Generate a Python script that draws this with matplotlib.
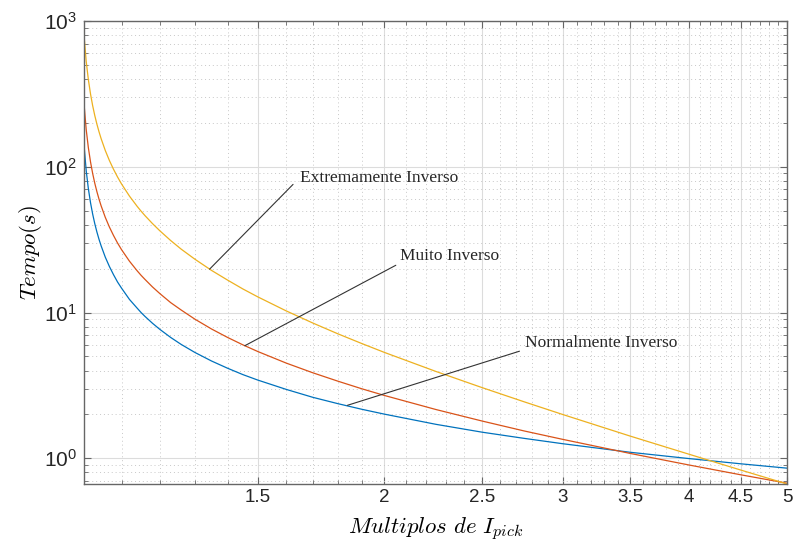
import matplotlib
matplotlib.use('Agg')
import matplotlib.pyplot as plt
from matplotlib.ticker import FixedLocator, FixedFormatter, LogLocator, NullFormatter

plt.rcParams['font.family'] = 'Liberation Sans'
plt.rcParams['mathtext.fontset'] = 'custom'
plt.rcParams['mathtext.rm'] = 'Liberation Sans'
plt.rcParams['mathtext.it'] = 'Liberation Sans:italic'

# Multiplos de I_pick (eixo x) e tempos
multiplos = [1.01, 1.015, 1.02, 1.025, 1.03, 1.035, 1.04, 1.045, 1.05, 1.06,
             1.07, 1.08, 1.09, 1.1, 1.12, 1.14, 1.15, 1.16, 1.18, 1.2, 1.23,
             1.26, 1.3, 1.35, 1.4, 1.45, 1.5, 1.6, 1.7, 1.8, 1.9, 2.0, 2.25,
             2.5, 2.75, 3.0, 3.5, 4.0, 4.5, 5.0]
t_normal = [140.7, 94.0, 70.7, 56.7, 47.4, 40.7, 35.7, 31.8, 28.7, 24.0,
            20.7, 18.2, 16.2, 14.7, 12.3, 10.7, 10.0, 9.42, 8.45, 7.67, 6.75,
            6.04, 5.32, 4.65, 4.15, 3.75, 3.44, 2.97, 2.62, 2.37, 2.17, 2.01, 1.71,
            1.51, 1.37, 1.26, 1.10, 0.996, 0.917, 0.856]
t_muito = [270, 180, 135, 108, 90, 77.1, 67.5, 60, 54, 45,
           38.6, 33.8, 30, 27, 22.5, 19.3, 18, 16.9, 15, 13.5, 11.7,
           10.4, 9.0, 7.71, 6.75, 6.0, 5.4, 4.5, 3.86, 3.38, 3.0, 2.7, 2.16,
           1.8, 1.54, 1.35, 1.08, 0.90, 0.771, 0.675]
t_extremo = [796, 529, 396, 316, 262.7, 224.6, 196.1, 173.9, 156.1, 129.4,
             110.4, 96.2, 85.1, 76.2, 62.9, 53.4, 49.6, 46.3, 40.8, 36.4, 31.2,
             27.2, 23.2, 19.45, 16.7, 14.5, 12.8, 10.26, 8.47, 7.14, 6.13, 5.33, 3.94,
             3.05, 2.44, 2.0, 1.42, 1.067, 0.831, 0.667]

xticks = [1.5, 2, 2.5, 3, 3.5, 4, 4.5, 5]
xtick_labels = ['1.5', '2', '2.5', '3', '3.5', '4', '4.5', '5']
nomes = ['Normalmente Inverso', 'Muito Inverso', 'Extremamente Inverso']

fig = plt.figure(figsize=(7.95, 5.45), dpi=100)
ax = fig.add_axes([0.1057, 0.112, 0.8843, 0.8495])

ax.plot(multiplos, t_normal, color='#0072BD', lw=0.9)
ax.plot(multiplos, t_muito, color='#D95319', lw=0.9)
ax.plot(multiplos, t_extremo, color='#EDB120', lw=0.9)

ax.set_xscale('log')
ax.set_yscale('log')
ax.set_xlim(1.01, 5)
ax.set_ylim(0.667, 1000)

ax.xaxis.set_major_locator(FixedLocator(xticks))
ax.xaxis.set_major_formatter(FixedFormatter(xtick_labels))
minx = [round(1.1 + 0.1 * i, 1) for i in range(39)]
minx = [v for v in minx if v not in xticks]
ax.xaxis.set_minor_locator(FixedLocator(minx))
ax.xaxis.set_minor_formatter(NullFormatter())
ax.yaxis.set_major_locator(LogLocator(base=10, numticks=10))
ax.yaxis.set_minor_locator(LogLocator(base=10, subs=range(2, 10), numticks=20))
ax.yaxis.set_minor_formatter(NullFormatter())

ax.grid(True, which='major', color='#dcdcdc', lw=0.8, ls='-')
ax.grid(True, which='minor', color='#c8c8c8', lw=0.7, ls=(0, (1, 3)))
ax.set_axisbelow(True)

for s in ax.spines.values():
    s.set_color('#666666')
    s.set_linewidth(1.0)
ax.tick_params(which='both', direction='in', top=True, right=True, colors='#666666',
               labelcolor='#262626')
ax.tick_params(axis='x', labelsize=13.5)
ax.tick_params(axis='y', labelsize=15, pad=5)
ax.tick_params(which='major', length=5, width=0.8)
ax.tick_params(which='minor', length=3, width=0.6)

ax.set_xlabel(r'$Multiplos\ de\ I_{pick}$', fontsize=16.5, math_fontfamily='cm',
              labelpad=7)
ax.set_ylabel(r'$Tempo(s)$', fontsize=16.5, math_fontfamily='cm', labelpad=0)

# anotacoes (ponto na curva, fim da linha, posicao do texto)
anot = [((1.839, 2.31), (2.72, 5.43), (2.752, 6.16)),
        ((1.456, 5.92), (2.053, 21.1), (2.072, 24.3)),
        ((1.344, 19.85), (1.625, 75.7), (1.651, 83.1))]
for nome, (p, q, t) in zip(nomes, anot):
    ax.annotate('', xy=p, xytext=q,
                arrowprops=dict(arrowstyle='-', color='#333333', lw=0.8,
                                shrinkA=0, shrinkB=0))
    ax.text(t[0], t[1], nome, fontsize=12.5, family='Liberation Serif',
            ha='left', va='center', color='#262626')

fig.savefig('out.png', dpi=100)
